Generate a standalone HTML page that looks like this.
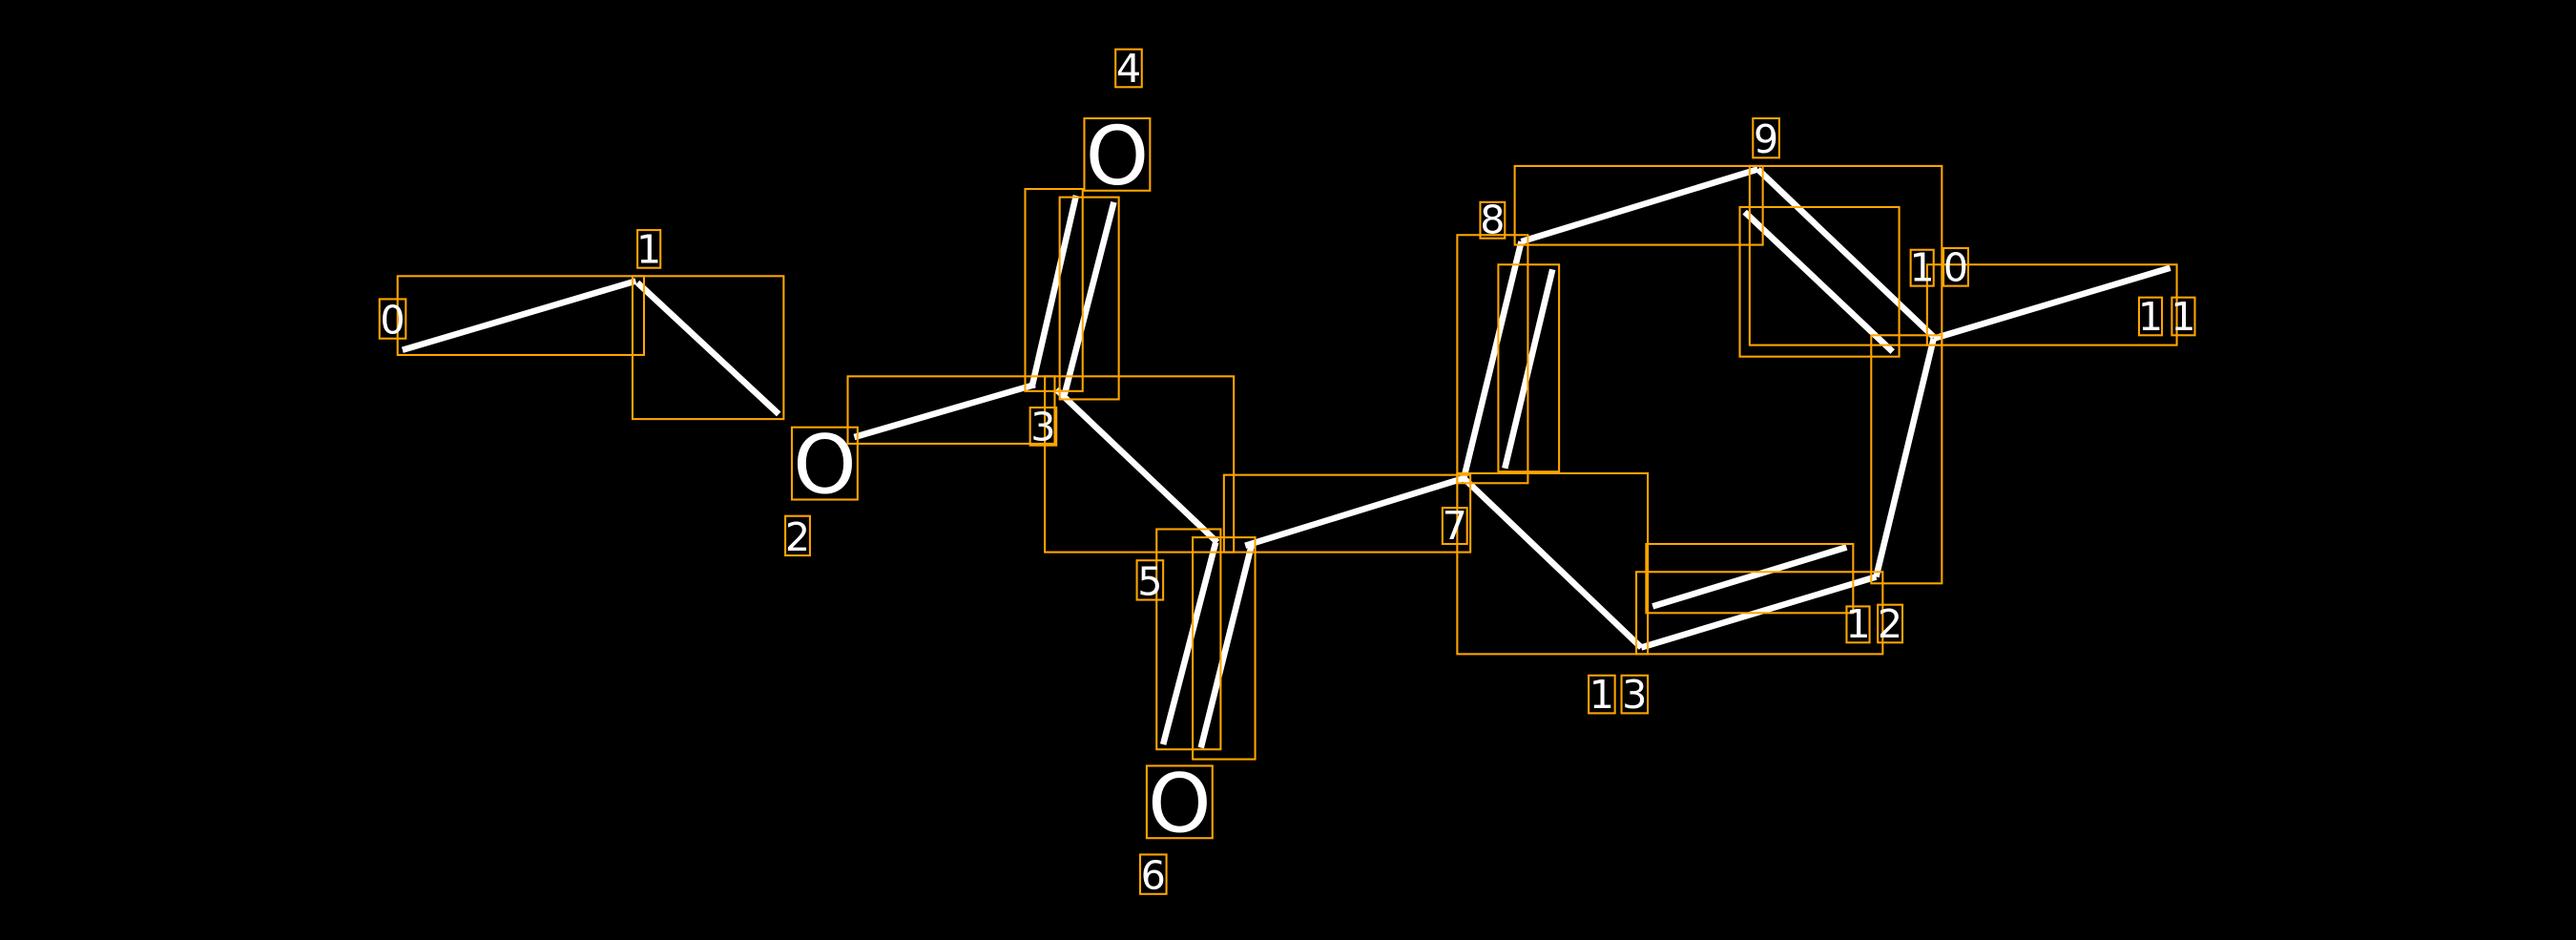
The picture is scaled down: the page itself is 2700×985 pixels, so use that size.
<!DOCTYPE html>
<html><head><meta charset="utf-8"><style>
html,body{margin:0;padding:0;background:#000;}
svg{display:block;}
</style></head><body>
<svg width="2700" height="985" viewBox="0 0 1568 572" preserveAspectRatio="none" xmlns="http://www.w3.org/2000/svg">
<rect width="1568" height="572" fill="#000"/>
<g stroke="#fff" stroke-width="3.8" stroke-linecap="butt">
<line x1="245" y1="213" x2="387" y2="171"/>
<line x1="388" y1="172" x2="474" y2="252"/>
<line x1="520" y1="266" x2="630" y2="234"/>
<line x1="628" y1="236" x2="655" y2="119"/>
<line x1="648" y1="240" x2="678" y2="123"/>
<line x1="643" y1="237" x2="741" y2="330"/>
<line x1="740" y1="330" x2="708" y2="453"/>
<line x1="762" y1="331" x2="731" y2="455"/>
<line x1="758" y1="332" x2="891" y2="291"/>
<line x1="891" y1="291" x2="926" y2="147"/>
<line x1="916" y1="285" x2="945" y2="164"/>
<line x1="926" y1="147" x2="1070" y2="103"/>
<line x1="1070" y1="103" x2="1177" y2="205"/>
<line x1="1062" y1="129" x2="1152" y2="214"/>
<line x1="1177" y1="206" x2="1321" y2="163"/>
<line x1="1177" y1="206" x2="1142" y2="351"/>
<line x1="1142" y1="351" x2="999" y2="394"/>
<line x1="1006" y1="369" x2="1124" y2="333"/>
<line x1="999" y1="394" x2="891" y2="291"/>
</g>
<g fill="none" stroke="#ffa500" stroke-width="1.2">
<rect x="242" y="168" width="150" height="48"/>
<rect x="385" y="168" width="92" height="87"/>
<rect x="516" y="229" width="126" height="41"/>
<rect x="624" y="115" width="35" height="123"/>
<rect x="645" y="120" width="36" height="123"/>
<rect x="636" y="229" width="115" height="107"/>
<rect x="704" y="322" width="39" height="134"/>
<rect x="726" y="327" width="38" height="135"/>
<rect x="745" y="289" width="150" height="47"/>
<rect x="887" y="143" width="43" height="151"/>
<rect x="912" y="161" width="37" height="126"/>
<rect x="922" y="101" width="151" height="48"/>
<rect x="1065" y="101" width="117" height="109"/>
<rect x="1059" y="126" width="97" height="91"/>
<rect x="1173" y="161" width="152" height="49"/>
<rect x="1139" y="204" width="43" height="151"/>
<rect x="887" y="288" width="116" height="110"/>
<rect x="1002" y="331" width="126" height="42"/>
<rect x="996" y="348" width="150" height="50"/>
<rect x="231" y="182" width="16" height="24"/>
<rect x="388" y="140" width="14" height="23"/>
<rect x="478" y="314" width="15" height="24"/>
<rect x="627" y="248" width="16" height="23"/>
<rect x="679" y="30" width="16" height="23"/>
<rect x="692" y="341" width="16" height="24"/>
<rect x="694" y="520" width="16" height="24"/>
<rect x="878" y="309" width="15" height="22"/>
<rect x="901" y="123" width="15" height="22"/>
<rect x="1067" y="72" width="16" height="24"/>
<rect x="1163" y="152" width="14" height="22"/>
<rect x="1183" y="151" width="15" height="23"/>
<rect x="1302" y="181" width="14" height="23"/>
<rect x="1322" y="181" width="14" height="23"/>
<rect x="1124" y="369" width="14" height="22"/>
<rect x="1143" y="368" width="15" height="23"/>
<rect x="967" y="411" width="16" height="23"/>
<rect x="987" y="411" width="16" height="23"/>
<rect x="482" y="260" width="40" height="44"/>
<rect x="660" y="72" width="40" height="44"/>
<rect x="698" y="466" width="40" height="44"/>
</g>
<g fill="#fff" font-family="DejaVu Sans, sans-serif" font-size="24" text-anchor="middle">
<text x="239" y="203">0</text>
<text x="395" y="160">1</text>
<text x="485.5" y="335">2</text>
<text x="635" y="268">3</text>
<text x="687" y="50">4</text>
<text x="700" y="362">5</text>
<text x="702" y="541">6</text>
<text x="885.5" y="328">7</text>
<text x="908.5" y="142">8</text>
<text x="1075" y="93">9</text>
<text x="1170" y="171">1</text>
<text x="1190.5" y="171">0</text>
<text x="1309" y="201">1</text>
<text x="1329" y="201">1</text>
<text x="1131" y="388">1</text>
<text x="1150.5" y="388">2</text>
<text x="975" y="431">1</text>
<text x="995" y="431">3</text>
</g>
<g fill="#fff" font-family="DejaVu Sans, sans-serif" font-size="49" text-anchor="middle">
<text x="502" y="300">O</text>
<text x="680" y="112">O</text>
<text x="718" y="506">O</text>
</g>
</svg>
</body></html>
